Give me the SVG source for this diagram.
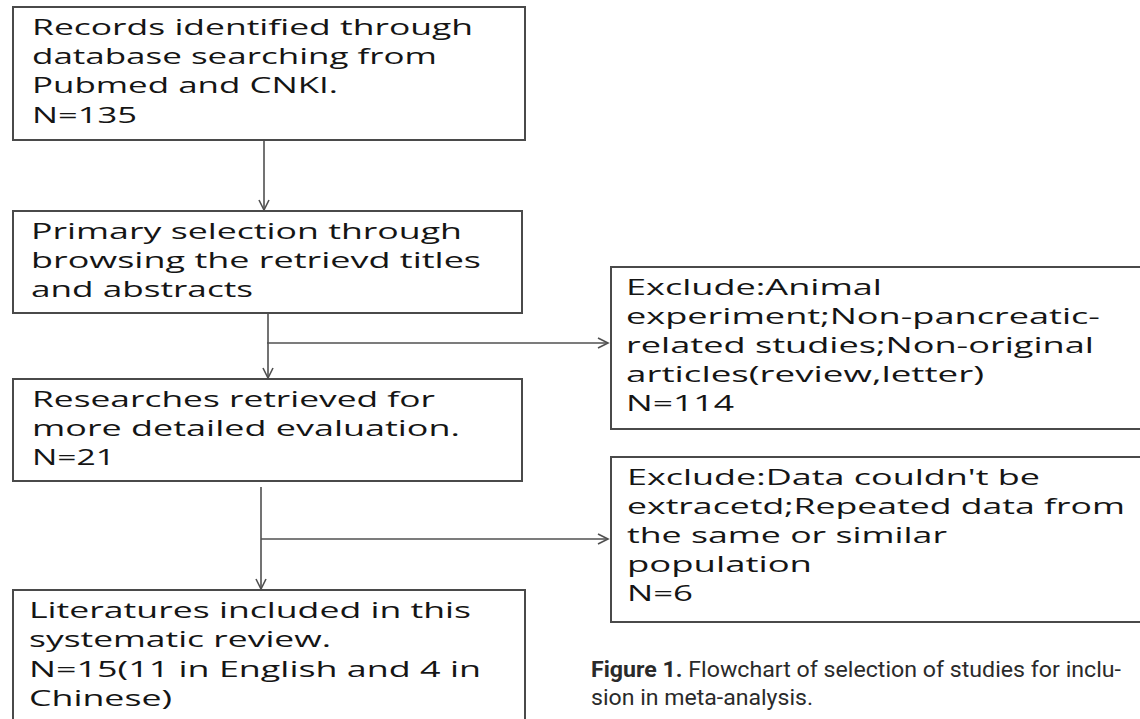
<svg xmlns="http://www.w3.org/2000/svg" width="1140" height="719" viewBox="0 0 1140 719">
<style>
.box{fill:#fff;stroke:#4a4a4a;stroke-width:2}
.t{font-family:"Open Sans","Liberation Sans",sans-serif;font-size:22px;font-weight:500;fill:#151515}
.cap{font-family:Roboto,"Liberation Sans",sans-serif;font-size:22px;fill:#2a2a2a}
.con{fill:none;stroke:#505050;stroke-width:1.6}
</style>
<defs>
<marker id="arr" markerUnits="userSpaceOnUse" markerWidth="14" markerHeight="14" refX="10" refY="5" orient="auto" overflow="visible">
<path d="M0,0 L10,5 L0,10" fill="none" stroke="#505050" stroke-width="1.6"/>
</marker>
</defs>
<rect width="1140" height="719" fill="#fff"/>
<g id="connectors">
<line class="con" x1="264" y1="140" x2="264" y2="210" marker-end="url(#arr)"/>
<line class="con" x1="268" y1="313" x2="268" y2="378" marker-end="url(#arr)"/>
<line class="con" x1="267" y1="343" x2="608" y2="343" marker-end="url(#arr)"/>
<line class="con" x1="261" y1="487" x2="261" y2="589" marker-end="url(#arr)"/>
<line class="con" x1="261" y1="539" x2="608" y2="539" marker-end="url(#arr)"/>
</g>
<g id="records">
<rect class="box" x="13" y="7" width="512" height="133"/>
<text class="t" x="32" y="35" textLength="441" lengthAdjust="spacingAndGlyphs">Records identified through</text>
<text class="t" x="32" y="64" textLength="405" lengthAdjust="spacingAndGlyphs">database searching from</text>
<text class="t" x="32" y="93" textLength="306" lengthAdjust="spacingAndGlyphs">Pubmed and CNKI.</text>
<text class="t" x="32" y="123" textLength="105" lengthAdjust="spacingAndGlyphs">N=135</text>
</g>
<g id="primary">
<rect class="box" x="13" y="211" width="509" height="102"/>
<text class="t" x="31" y="239" textLength="431" lengthAdjust="spacingAndGlyphs">Primary selection through</text>
<text class="t" x="31" y="268" textLength="450" lengthAdjust="spacingAndGlyphs">browsing the retrievd titles</text>
<text class="t" x="31" y="297" textLength="222" lengthAdjust="spacingAndGlyphs">and abstracts</text>
</g>
<g id="exclude1">
<rect class="box" x="611" y="267" width="535" height="162"/>
<text class="t" x="626" y="295" textLength="256" lengthAdjust="spacingAndGlyphs">Exclude:Animal</text>
<text class="t" x="626" y="324" textLength="474" lengthAdjust="spacingAndGlyphs">experiment;Non-pancreatic-</text>
<text class="t" x="626" y="353" textLength="468" lengthAdjust="spacingAndGlyphs">related studies;Non-original</text>
<text class="t" x="626" y="382" textLength="358" lengthAdjust="spacingAndGlyphs">articles(review,letter)</text>
<text class="t" x="626" y="411" textLength="108" lengthAdjust="spacingAndGlyphs">N=114</text>
</g>
<g id="researches">
<rect class="box" x="13" y="379" width="509" height="102"/>
<text class="t" x="32" y="407" textLength="403" lengthAdjust="spacingAndGlyphs">Researches retrieved for</text>
<text class="t" x="32" y="436" textLength="428" lengthAdjust="spacingAndGlyphs">more detailed evaluation.</text>
<text class="t" x="32" y="465" textLength="83" lengthAdjust="spacingAndGlyphs">N=21</text>
</g>
<g id="exclude2">
<rect class="box" x="611" y="457" width="535" height="165"/>
<text class="t" x="627" y="485" textLength="413" lengthAdjust="spacingAndGlyphs">Exclude:Data couldn't be</text>
<text class="t" x="627" y="514" textLength="498" lengthAdjust="spacingAndGlyphs">extracetd;Repeated data from</text>
<text class="t" x="627" y="543" textLength="320" lengthAdjust="spacingAndGlyphs">the same or similar</text>
<text class="t" x="627" y="572" textLength="185" lengthAdjust="spacingAndGlyphs">population</text>
<text class="t" x="627" y="601" textLength="66" lengthAdjust="spacingAndGlyphs">N=6</text>
</g>
<g id="included">
<rect class="box" x="13" y="590" width="512" height="140"/>
<text class="t" x="29" y="618" textLength="442" lengthAdjust="spacingAndGlyphs">Literatures included in this</text>
<text class="t" x="29" y="647" textLength="302" lengthAdjust="spacingAndGlyphs">systematic review.</text>
<text class="t" x="29" y="677" textLength="452" lengthAdjust="spacingAndGlyphs">N=15(11 in English and 4 in</text>
<text class="t" x="29" y="706" textLength="143" lengthAdjust="spacingAndGlyphs">Chinese)</text>
</g>
<g id="caption">
<text class="cap" x="591" y="677" textLength="530" lengthAdjust="spacingAndGlyphs"><tspan font-weight="bold">Figure 1.</tspan> Flowchart of selection of studies for inclu-</text>
<text class="cap" x="591" y="705" textLength="222" lengthAdjust="spacingAndGlyphs">sion in meta-analysis.</text>
</g>
</svg>
